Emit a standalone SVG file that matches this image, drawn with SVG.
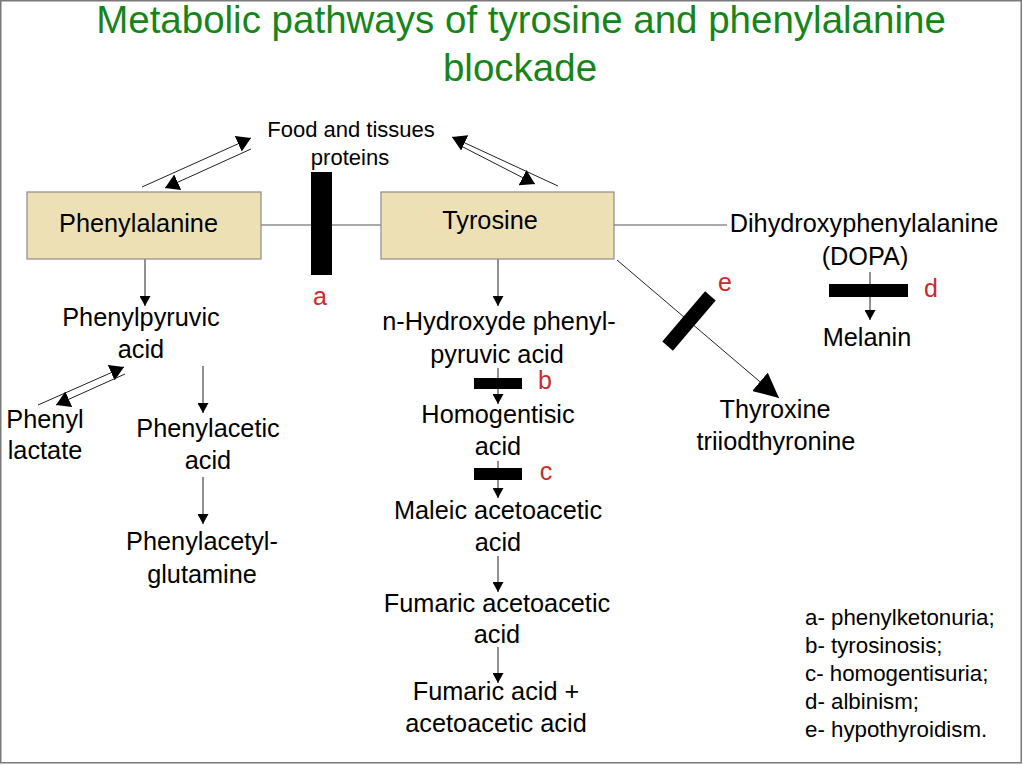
<svg xmlns="http://www.w3.org/2000/svg" width="1023" height="765" viewBox="0 0 1023 765">
<style>
  text { font-family: "Liberation Sans", Arial, sans-serif; fill: #000; }
  .t { font-size: 25.3px; text-anchor: middle; }
  .sm { font-size: 22px; text-anchor: middle; }
  .title { font-size: 38.5px; fill: #15851a; text-anchor: middle; }
  .lbl { font-size: 25px; fill: #cc2a2a; text-anchor: middle; }
  .leg { font-size: 22.3px; }
  .box { fill: #ede0b5; stroke: #8c8c8c; stroke-width: 1.2; }
  .ln { stroke: #222; stroke-width: 1; fill: none; }
  .gl { stroke: #555; stroke-width: 1; fill: none; }
  .bar { fill: #000; }
</style>
<defs>
  <marker id="arr" markerUnits="userSpaceOnUse" markerWidth="11" markerHeight="11" refX="10" refY="5.5" orient="auto">
    <path d="M0,0 L10,5.5 L0,11 z" fill="#000"/>
  </marker>
  <marker id="arrM" markerUnits="userSpaceOnUse" markerWidth="15" markerHeight="17" refX="14" refY="8.5" orient="auto">
    <path d="M0,0 L14,8.5 L0,17 z" fill="#000"/>
  </marker>
  <marker id="arrB" markerUnits="userSpaceOnUse" markerWidth="26" markerHeight="24" refX="25" refY="12" orient="auto">
    <path d="M0,0 L25,12 L0,24 z" fill="#000"/>
  </marker>
</defs>

<rect x="0.75" y="0.75" width="1020.5" height="762" fill="#fff" stroke="#7a7a7a" stroke-width="1.5"/>

<g id="title">
  <text class="title" x="521" y="33">Metabolic pathways of tyrosine and phenylalanine</text>
  <text class="title" x="520" y="81">blockade</text>
</g>

<g id="connectors">
  <line class="ln" x1="142" y1="187" x2="251" y2="138" marker-end="url(#arrM)"/>
  <line class="ln" x1="251" y1="149" x2="165" y2="188" marker-end="url(#arrM)"/>
  <line class="ln" x1="558" y1="186" x2="452" y2="137" marker-end="url(#arrM)"/>
  <line class="ln" x1="463" y1="147" x2="535" y2="184" marker-end="url(#arrM)"/>
  <line class="gl" x1="261" y1="225" x2="381" y2="225"/>
  <line class="gl" x1="614" y1="225" x2="727" y2="225"/>
  <line class="ln" x1="145" y1="259" x2="145" y2="306" marker-end="url(#arr)"/>
  <line class="ln" x1="38" y1="405" x2="124" y2="367" marker-end="url(#arrM)"/>
  <line class="ln" x1="125" y1="374" x2="56" y2="405" marker-end="url(#arrM)"/>
  <line class="ln" x1="203" y1="366" x2="203" y2="413" marker-end="url(#arr)"/>
  <line class="ln" x1="203" y1="477" x2="203" y2="524" marker-end="url(#arr)"/>
  <line class="ln" x1="498" y1="259" x2="498" y2="306" marker-end="url(#arr)"/>
  <line class="ln" x1="498" y1="368" x2="498" y2="404" marker-end="url(#arr)"/>
  <line class="ln" x1="498" y1="461" x2="498" y2="498" marker-end="url(#arr)"/>
  <line class="ln" x1="498" y1="556" x2="498" y2="592" marker-end="url(#arr)"/>
  <line class="ln" x1="498" y1="647" x2="498" y2="683" marker-end="url(#arr)"/>
  <line class="ln" x1="617" y1="260" x2="779" y2="398" marker-end="url(#arrB)"/>
  <line class="ln" x1="870" y1="272" x2="870" y2="320" marker-end="url(#arr)"/>
</g>

<g id="blocks">
  <rect class="bar" x="311" y="172" width="21" height="103"/>
  <rect class="bar" x="474" y="378" width="48" height="11"/>
  <rect class="bar" x="474" y="468" width="48" height="12"/>
  <rect class="bar" x="829" y="284" width="79" height="13"/>
  <rect class="bar" x="-33" y="-7" width="66" height="14" transform="translate(689,321) rotate(-49.6)"/>
  <text class="lbl" x="320" y="305">a</text>
  <text class="lbl" x="545" y="389">b</text>
  <text class="lbl" x="546" y="480">c</text>
  <text class="lbl" x="931" y="297">d</text>
  <text class="lbl" x="725" y="291">e</text>
</g>

<g id="food">
  <text class="sm" x="351" y="137">Food and tissues</text>
  <text class="sm" x="350" y="165">proteins</text>
</g>
<g id="phenylalanine">
  <rect class="box" x="27" y="192" width="234" height="67"/>
  <text class="t" x="138.5" y="232">Phenylalanine</text>
</g>
<g id="tyrosine">
  <rect class="box" x="381" y="192" width="233" height="67"/>
  <text class="t" x="490" y="229">Tyrosine</text>
</g>
<g id="dopa">
  <text class="t" x="864" y="232">Dihydroxyphenylalanine</text>
  <text class="t" x="865" y="265">(DOPA)</text>
</g>
<g id="melanin">
  <text class="t" x="867" y="346">Melanin</text>
</g>
<g id="phenylpyruvic">
  <text class="t" x="141" y="326">Phenylpyruvic</text>
  <text class="t" x="141" y="358">acid</text>
</g>
<g id="phenyllactate">
  <text class="t" x="45" y="428">Phenyl</text>
  <text class="t" x="45" y="459">lactate</text>
</g>
<g id="phenylacetic">
  <text class="t" x="208" y="437">Phenylacetic</text>
  <text class="t" x="208" y="469">acid</text>
</g>
<g id="phenylacetylglutamine">
  <text class="t" x="202" y="550">Phenylacetyl-</text>
  <text class="t" x="202" y="583">glutamine</text>
</g>
<g id="hydroxyphenylpyruvic">
  <text class="t" x="499" y="330">n-Hydroxyde phenyl-</text>
  <text class="t" x="497" y="363">pyruvic acid</text>
</g>
<g id="homogentisic">
  <text class="t" x="498" y="423">Homogentisic</text>
  <text class="t" x="498" y="455">acid</text>
</g>
<g id="maleic">
  <text class="t" x="498" y="519">Maleic acetoacetic</text>
  <text class="t" x="498" y="551">acid</text>
</g>
<g id="fumaric">
  <text class="t" x="497" y="612">Fumaric acetoacetic</text>
  <text class="t" x="497" y="643">acid</text>
</g>
<g id="products">
  <text class="t" x="496" y="700">Fumaric acid +</text>
  <text class="t" x="496" y="732">acetoacetic acid</text>
</g>
<g id="thyroxine">
  <text class="t" x="775" y="418">Thyroxine</text>
  <text class="t" x="776" y="450">triiodthyronine</text>
</g>
<g id="legend">
  <text class="leg" x="805" y="625">a- phenylketonuria;</text>
  <text class="leg" x="805" y="653">b- tyrosinosis;</text>
  <text class="leg" x="805" y="681">c- homogentisuria;</text>
  <text class="leg" x="805" y="709">d- albinism;</text>
  <text class="leg" x="805" y="737">e- hypothyroidism.</text>
</g>
</svg>
